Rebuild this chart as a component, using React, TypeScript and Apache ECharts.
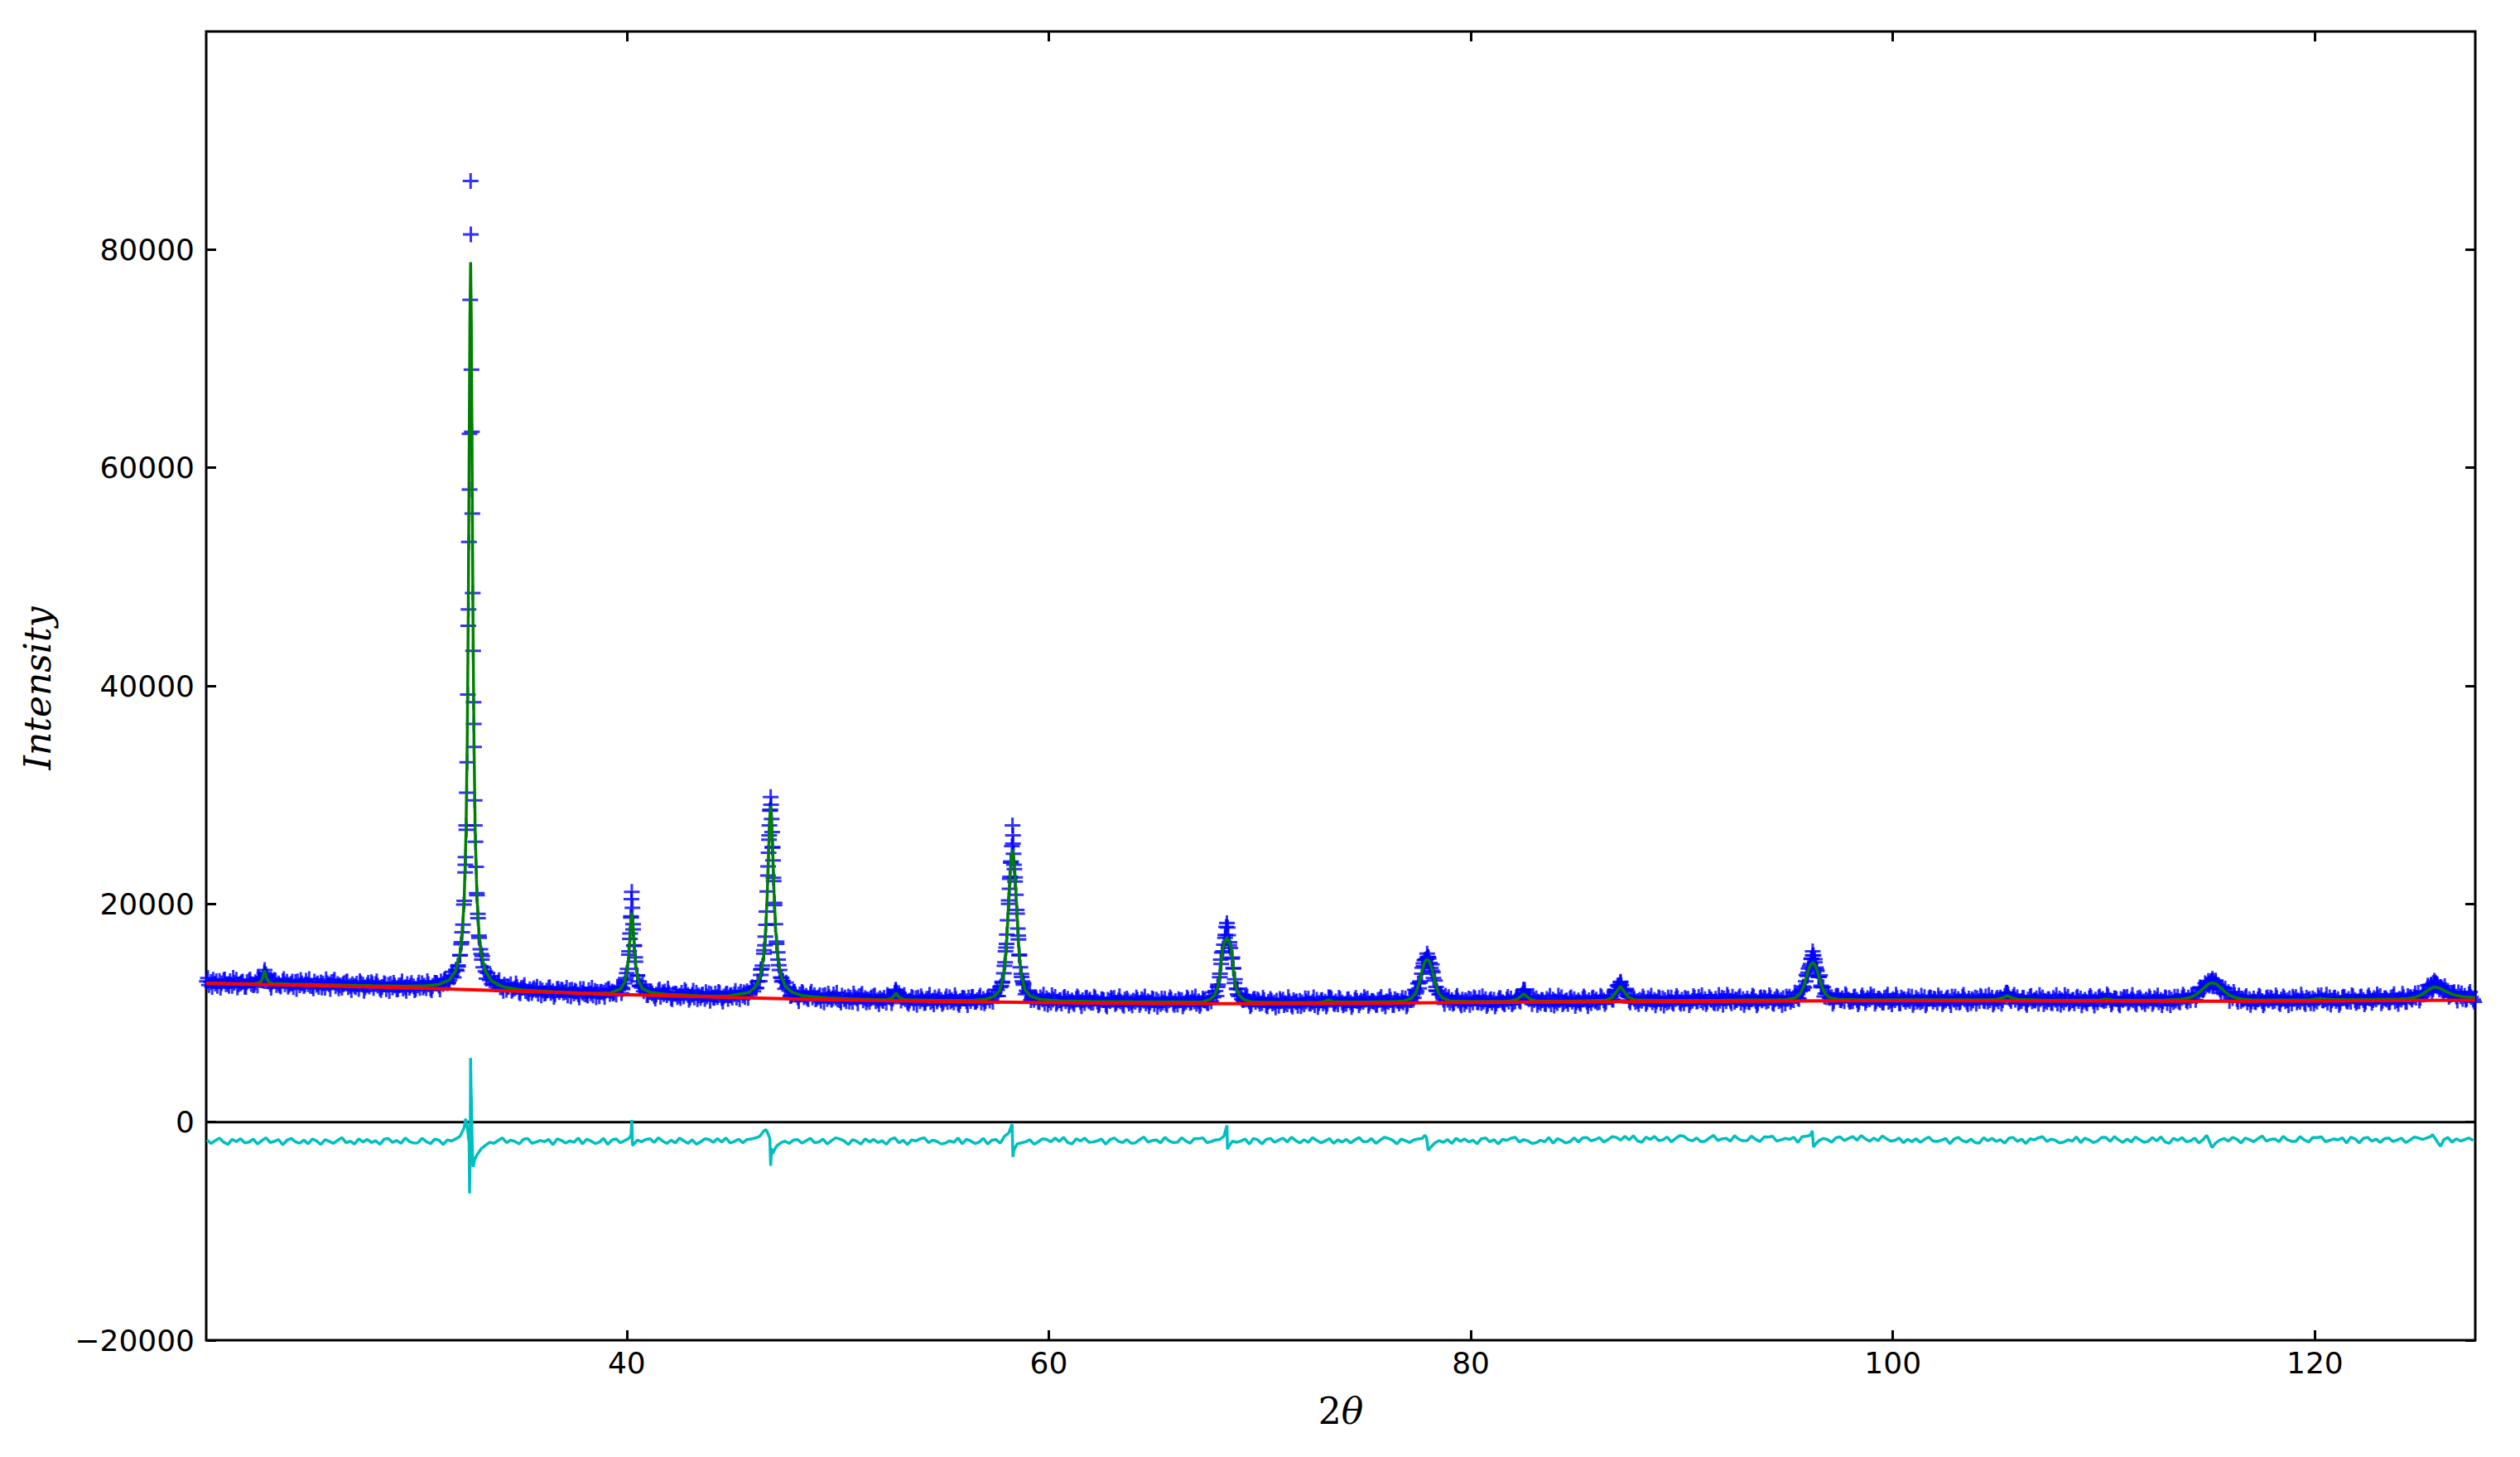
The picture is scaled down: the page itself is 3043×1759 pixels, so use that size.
import React, { useEffect, useRef } from "react";
import * as echarts from "echarts";

// ---------- axes ----------
const X_MIN = 20.07;
const X_MAX = 127.6;
const Y_MIN = -20000;
const Y_MAX = 100000;
const xTickValues = [40, 60, 80, 100, 120];
const yTickValues = [-20000, 0, 20000, 40000, 60000, 80000];

// ---------- observed intensities (scan grid, 0.1 deg step from 20.1) ----------
const OBS_START = 20.1;
const OBS_STEP = 0.1;
const observedGrid = [
  12900, 12570, 12840, 13060, 12690, 12480, 12950, 12740, 13010, 12630,
  12660, 12930, 12480, 12780, 13050, 12620, 12720, 12890, 12410, 12830,
  12970, 12660, 12540, 12830, 12520, 13020, 13000, 13310, 13560, 12910,
  12650, 12860, 13030, 12560, 12710, 12430, 12920, 12630, 12860, 12580,
  12700, 12370, 12840, 12900, 12550, 12720, 12460, 12960, 12630, 12490,
  12470, 12890, 12580, 12390, 12810, 12710, 12310, 12740, 12640, 12830,
  12880, 12440, 12660, 12550, 12310, 12740, 12820, 12380, 12490, 12630,
  12490, 12690, 12210, 12740, 12600, 12350, 12560, 12430, 12820, 12290,
  12660, 12500, 12260, 12390, 12740, 12180, 12590, 12680, 12330, 12530,
  12160, 12530, 12570, 12250, 12380, 12660, 12310, 12750, 12440, 12220,
  12530, 12290, 12740, 12500, 12280, 12630, 12240, 12480, 12780, 12740,
  12510, 12910, 12650, 13110, 12740, 13020, 13430, 13270, 13970, 14370,
  15300, 17400, 20300, 26800, 47000, 86300, 48500, 27200, 20800, 16900,
  15420, 14190, 13810, 13680, 13010, 12650, 12950, 12620, 12800, 12350,
  12360, 12600, 12120, 12390, 12640, 12180, 12260, 12400, 11900, 12290,
  12330, 12020, 11900, 12180, 11840, 12280, 12110, 11770, 12220, 12070,
  11780, 12060, 12310, 11840, 11990, 11710, 12200, 11910, 12140, 11860,
  11940, 11610, 12080, 12140, 11790, 11960, 11700, 12200, 11870, 11730,
  11690, 12110, 11800, 11610, 12030, 11930, 11530, 11960, 11860, 12050,
  12170, 11740, 11980, 11900, 11690, 12200, 12420, 12190, 12720, 13660,
  15360, 18860, 17680, 15110, 13420, 12470, 12330, 12000, 12260, 11660,
  11960, 11800, 11560, 11690, 12040, 11480, 11890, 11980, 11630, 11830,
  11370, 11740, 11780, 11460, 11590, 11870, 11520, 11960, 11650, 11430,
  11670, 11420, 11860, 11610, 11380, 11710, 11300, 11520, 11800, 11730,
  11430, 11780, 11460, 11840, 11370, 11510, 11730, 11290, 11610, 11400,
  11720, 11410, 11710, 11960, 11620, 11460, 11990, 11860, 12230, 12000,
  12280, 12890, 12920, 14040, 15760, 18080, 23450, 28650, 25170, 19890,
  16550, 14390, 13270, 12950, 12230, 12400, 12060, 11590, 11940, 11710,
  11440, 11700, 11930, 11440, 11570, 11270, 11740, 11430, 11640, 11340,
  11450, 11120, 11590, 11650, 11300, 11470, 11210, 11710, 11380, 11240,
  11170, 11590, 11280, 11090, 11510, 11410, 11010, 11440, 11340, 11530,
  11590, 11150, 11370, 11260, 11020, 11450, 11530, 11090, 11200, 11340,
  11210, 11410, 10940, 11480, 11410, 11310, 11870, 11730, 11820, 11130,
  11410, 11250, 11010, 11140, 11490, 10930, 11340, 11430, 11080, 11280,
  10920, 11290, 11330, 11010, 11140, 11420, 11070, 11510, 11200, 10980,
  11270, 11010, 11450, 11200, 10970, 11300, 10890, 11110, 11390, 11320,
  11080, 11430, 11110, 11490, 11020, 11170, 11400, 10960, 11290, 11100,
  11420, 11140, 11480, 11800, 11560, 11550, 12370, 12860, 14330, 16350,
  20320, 23790, 25540, 22440, 19110, 15280, 13580, 12750, 11720, 11890,
  11850, 11420, 11220, 11430, 11040, 11450, 11260, 10900, 11340, 11180,
  10950, 11230, 11480, 11010, 11160, 10880, 11370, 11080, 11310, 11030,
  11150, 10820, 11290, 11350, 11000, 11170, 10910, 11410, 11080, 10940,
  10940, 11360, 11050, 10860, 11280, 11180, 10780, 11210, 11110, 11300,
  11380, 10940, 11160, 11050, 10810, 11240, 11320, 10880, 10990, 11130,
  11020, 11220, 10740, 11270, 11130, 10880, 11090, 10960, 11350, 10820,
  11230, 11070, 10830, 10960, 11310, 10750, 11160, 11250, 10900, 11100,
  10780, 11150, 11190, 10870, 11000, 11280, 10930, 11370, 11060, 10840,
  11090, 10860, 11330, 11130, 10950, 11350, 11070, 11440, 12020, 12400,
  13290, 15540, 16270, 17900, 17130, 15970, 15090, 12750, 12220, 11560,
  11620, 11170, 11360, 11500, 11060, 10800, 11250, 11010, 11260, 10850,
  10910, 11180, 10730, 11030, 11300, 10870, 10970, 11140, 10660, 11080,
  11230, 10920, 10800, 11080, 10740, 11180, 11010, 10670, 11120, 10970,
  10790, 11070, 11320, 10850, 11000, 10720, 11210, 10920, 11150, 10870,
  11040, 10860, 11380, 11290, 10890, 11060, 10800, 11300, 10970, 10830,
  10860, 11280, 10970, 10780, 11200, 11100, 10700, 11130, 11030, 11220,
  11330, 10890, 11110, 11000, 10760, 11190, 11270, 10830, 10940, 11080,
  11020, 11220, 10740, 11270, 11130, 10880, 11090, 10960, 11350, 10820,
  11480, 11400, 11380, 11810, 12710, 12900, 14160, 14850, 14950, 15000,
  14130, 13750, 12990, 12020, 11700, 11730, 11230, 11600, 11210, 10940,
  11190, 10940, 11380, 11130, 10900, 11230, 10820, 11040, 11320, 11250,
  10970, 11320, 11000, 11380, 10910, 11050, 11270, 10830, 11150, 10940,
  11210, 10880, 11150, 11370, 11000, 10790, 11260, 11050, 11320, 10940,
  11070, 11440, 11140, 11640, 12160, 11530, 11380, 11400, 10820, 11190,
  11350, 11040, 10920, 11200, 10860, 11300, 11130, 10790, 11240, 11090,
  10910, 11190, 11440, 10970, 11120, 10840, 11330, 11040, 11270, 10990,
  11160, 10830, 11300, 11360, 11010, 11180, 10920, 11420, 11090, 10950,
  11000, 11440, 11160, 11020, 11510, 11510, 11240, 11920, 12070, 12560,
  12860, 12070, 11990, 11580, 11160, 11490, 11500, 11010, 11100, 11210,
  11120, 11320, 10840, 11370, 11230, 10980, 11190, 11060, 11450, 10920,
  11340, 11180, 10940, 11070, 11420, 10860, 11270, 11360, 11010, 11210,
  10900, 11270, 11310, 10990, 11120, 11400, 11050, 11490, 11180, 10960,
  11270, 11020, 11460, 11210, 10980, 11310, 10900, 11120, 11400, 11330,
  11090, 11440, 11120, 11500, 11030, 11170, 11390, 10950, 11270, 11060,
  11320, 10990, 11260, 11480, 11110, 10900, 11370, 11160, 11430, 11050,
  11130, 11400, 10950, 11250, 11520, 11090, 11190, 11360, 10880, 11300,
  11500, 11240, 11170, 11550, 11360, 12000, 12130, 12340, 13490, 14090,
  14500, 15280, 14930, 13860, 13310, 12380, 12370, 11780, 11810, 11380,
  11460, 11090, 11530, 11560, 11190, 11350, 11080, 11570, 11230, 11090,
  11090, 11510, 11200, 11010, 11430, 11330, 10930, 11360, 11260, 11450,
  11530, 11090, 11310, 11200, 10960, 11390, 11470, 11030, 11140, 11280,
  11170, 11370, 10890, 11420, 11280, 11030, 11240, 11110, 11500, 10970,
  11380, 11220, 10980, 11110, 11460, 10900, 11310, 11400, 11050, 11250,
  10930, 11300, 11340, 11020, 11150, 11430, 11080, 11520, 11210, 10990,
  11290, 11040, 11480, 11230, 11000, 11330, 10920, 11140, 11420, 11350,
  11100, 11450, 11130, 11510, 11040, 11180, 11400, 10960, 11280, 11070,
  11420, 11170, 11560, 11880, 11430, 11100, 11490, 11210, 11450, 11050,
  11110, 11380, 10930, 11230, 11500, 11070, 11170, 11340, 10860, 11280,
  11430, 11120, 11000, 11280, 10940, 11380, 11210, 10870, 11320, 11170,
  10970, 11250, 11500, 11030, 11180, 10900, 11390, 11100, 11330, 11050,
  11210, 10880, 11350, 11410, 11060, 11230, 10970, 11520, 11220, 11110,
  11150, 11540, 11190, 10970, 11370, 11270, 10870, 11300, 11200, 11390,
  11480, 11040, 11260, 11150, 10910, 11340, 11420, 10980, 11090, 11230,
  11120, 11320, 10840, 11370, 11230, 10980, 11190, 11060, 11450, 10920,
  11380, 11230, 11000, 11140, 11500, 10960, 11390, 11500, 11180, 11420,
  11150, 11570, 11720, 11540, 11830, 12280, 12100, 12740, 12610, 12510,
  12940, 12660, 12980, 12580, 12170, 12330, 11740, 11790, 11920, 11730,
  11370, 11660, 11280, 11620, 11110, 11230, 11430, 10970, 11280, 11060,
  11320, 10990, 11260, 11480, 11110, 10900, 11370, 11160, 11430, 11050,
  11120, 11390, 10940, 11240, 11510, 11080, 11180, 11350, 10870, 11290,
  11460, 11150, 11030, 11310, 10970, 11410, 11240, 10900, 11350, 11200,
  11050, 11360, 11630, 11140, 11260, 10950, 11440, 11150, 11380, 11100,
  11270, 10940, 11410, 11470, 11120, 11290, 11030, 11530, 11200, 11060,
  11090, 11510, 11200, 11010, 11430, 11330, 10930, 11360, 11260, 11450,
  11560, 11120, 11340, 11230, 10990, 11420, 11500, 11060, 11170, 11310,
  11240, 11460, 11000, 11560, 11450, 11240, 11490, 11400, 11860, 11410,
  11960, 11920, 11830, 12110, 12610, 12180, 12610, 12600, 12170, 12270,
  11830, 12100, 12040, 11640, 11700, 11910, 11500, 11890, 11540, 11290,
  11570, 11300, 11730, 11470, 11230,
];

// second interleaved set of scan points (0.2 deg step from 20.15)
const OBS_B_START = 20.15;
const OBS_B_STEP = 0.2;
const observedGridB = [
  13200, 12400, 12930, 12310, 13080, 12490, 13220, 12340, 12820, 12390,
  13080, 12600, 13220, 12980, 13320, 12320, 12990, 12540, 13120, 12420,
  12880, 12210, 13040, 12600, 13120, 12260, 12720, 12340, 13090, 12200,
  13050, 12260, 12620, 12900, 12110, 12380, 12930, 12040, 12780, 12650,
  12900, 12100, 12630, 12010, 12780, 12180, 12910, 12030, 12510, 12080,
  12800, 12340, 12930, 12080, 12760, 12170, 13040, 12800, 13780, 13900,
  16300, 23600, 58000, 36500, 18700, 15220, 13150, 13380, 12640, 13010,
  12040, 12460, 12030, 12720, 11800, 12560, 11770, 12130, 12410, 11620,
  11830, 12380, 11490, 12230, 12100, 12320, 11520, 12050, 11430, 12200,
  11590, 12320, 11440, 11920, 11490, 12220, 11780, 12420, 11820, 13200,
  16800, 16200, 12900, 12600, 11650, 12000, 11330, 12160, 11720, 12240,
  11280, 11740, 11360, 12110, 11220, 12060, 11270, 11630, 11910, 11120,
  11390, 11940, 11050, 11790, 11660, 12030, 11280, 11890, 11390, 12380,
  12300, 13980, 16200, 26300, 22400, 15560, 12880, 12800, 11560, 11950,
  11080, 11830, 11380, 11960, 11260, 11630, 10960, 11790, 11350, 11870,
  10960, 11420, 11040, 11790, 10900, 11760, 10970, 11330, 11610, 10820,
  11100, 11660, 10910, 12150, 11560, 11650, 10850, 11380, 10760, 11530,
  10940, 11670, 10790, 11270, 10840, 11540, 11060, 11630, 10740, 11380,
  10720, 11470, 11020, 11600, 10900, 11540, 11020, 12130, 12490, 15660,
  22300, 23600, 17100, 12900, 12050, 11170, 11460, 10980, 11690, 10770,
  11630, 10840, 11200, 11480, 10690, 10960, 11510, 10620, 11360, 11230,
  11500, 10700, 11230, 10610, 11380, 10820, 11540, 10660, 11140, 10710,
  11420, 10940, 11510, 10620, 11260, 10570, 11320, 10870, 11450, 10750,
  11270, 10600, 11430, 10990, 11510, 10650, 11170, 10900, 11890, 11560,
  14900, 16900, 16200, 14100, 11700, 11300, 11660, 10630, 11310, 11120,
  11410, 10610, 11140, 10520, 11290, 10730, 11460, 10580, 11060, 10630,
  11350, 10870, 11440, 10550, 11190, 10600, 11420, 10820, 11400, 10700,
  11230, 10560, 11390, 10950, 11470, 10660, 11120, 10740, 11490, 10600,
  11540, 10750, 11110, 11390, 10600, 11170, 12120, 12260, 14550, 15120,
  14470, 12070, 11750, 10830, 11470, 10850, 11580, 10700, 11180, 10750,
  11440, 10960, 11530, 10640, 11280, 10610, 11360, 10910, 11490, 10790,
  11420, 11050, 12130, 11270, 11580, 10740, 11200, 10820, 11570, 10680,
  11590, 10800, 11160, 11440, 10650, 10970, 11520, 10630, 11370, 11240,
  11580, 10840, 11520, 11210, 12500, 12150, 12230, 10970, 11300, 10810,
  11510, 11030, 11600, 10710, 11350, 10680, 11430, 10980, 11560, 10860,
  11390, 10720, 11550, 11110, 11630, 10820, 11280, 10900, 11650, 10760,
  11680, 10890, 11250, 11530, 10740, 11050, 11600, 10710, 11450, 11320,
  11630, 10830, 11360, 10740, 11510, 11020, 11880, 11300, 12430, 13400,
  14960, 14180, 13450, 11510, 11770, 10850, 11600, 11150, 11730, 11030,
  11460, 10790, 11620, 11180, 11700, 10860, 11320, 10940, 11690, 10800,
  11690, 10900, 11260, 11540, 10750, 11050, 11600, 10710, 11450, 11320,
  11620, 10820, 11350, 10730, 11500, 10950, 11680, 10800, 11280, 10850,
  11570, 11090, 11660, 10770, 11410, 10860, 11820, 11280, 11680, 10910,
  11410, 10740, 11570, 11130, 11650, 10820, 11280, 10900, 11650, 10760,
  11650, 10860, 11220, 11500, 10710, 11030, 11580, 10690, 11430, 11300,
  11700, 10800, 11330, 10710, 11480, 10920, 11650, 10770, 11250, 10820,
  11520, 11040, 11610, 10720, 11360, 10730, 11500, 11070, 11690, 11050,
  11670, 11200, 12350, 12260, 12950, 12440, 12570, 11840, 12240, 11100,
  11930, 11030, 11320, 11560, 10740, 11050, 11600, 10710, 11450, 11320,
  11620, 10820, 11350, 10730, 11500, 10960, 11690, 10810, 11290, 10860,
  11620, 11170, 11690, 10780, 11420, 10750, 11500, 11050, 11630, 10930,
  11460, 10790, 11620, 11180, 11700, 10900, 11360, 10980, 11730, 10840,
  11770, 11020, 11450, 11810, 11140, 11690, 12520, 11930, 12700, 12390,
  12470, 11480, 11860, 11130, 11810, 11220, 11930, 11030,
];

// extra observed points measured on the Bragg peaks [2theta, counts]
const observedPeaks: [number, number][] = [
  [22.82, 13700], [22.84, 13940], [22.86, 13500], [22.78, 13250], [22.88, 13150],
  [32.61, 81400], [32.58, 75400], [32.64, 69000], [32.66, 63300], [32.55, 63100],
  [32.68, 55800], [32.52, 53200], [32.49, 45500], [32.72, 43200], [32.47, 39200],
  [32.76, 34400], [32.42, 30200], [32.79, 29500], [32.39, 27200], [32.83, 25700],
  [32.34, 22900], [32.89, 21000], [32.28, 19950], [32.94, 19100], [32.24, 18100],
  [32.99, 17100], [32.17, 16500], [33.06, 15850], [32.10, 15300], [33.13, 14900],
  [32.0, 14250], [32.36, 24300], [32.86, 23400], [32.44, 33000], [32.74, 38500],
  [40.24, 21100], [40.22, 20450], [40.27, 19650], [40.20, 18750], [40.30, 18150],
  [40.16, 17300], [40.35, 16150], [40.11, 15650], [40.41, 14700], [40.04, 14050],
  [40.50, 13450], [39.94, 13000], [40.64, 12500], [39.79, 12300],
  [46.82, 29800], [46.84, 29100], [46.79, 28550], [46.865, 27800], [46.76, 27200],
  [46.89, 26600], [46.74, 25900], [46.91, 25200], [46.72, 24700], [46.93, 24000],
  [46.69, 22600], [46.96, 22100], [46.66, 21150], [47.00, 20100], [46.62, 19300],
  [47.04, 18150], [46.57, 17000], [47.10, 16350], [46.50, 15450], [47.17, 14900],
  [46.43, 14350], [47.24, 13950], [46.35, 13500], [47.34, 13200],
  [52.74, 12050], [52.78, 11900], [52.70, 11750],
  [58.28, 27200], [58.30, 26300], [58.25, 25300], [58.33, 24600], [58.21, 23900],
  [58.37, 23200], [58.17, 22500], [58.40, 22050], [58.14, 21400], [58.44, 20850],
  [58.10, 20000], [58.48, 19450], [58.05, 18500], [58.53, 17750], [58.01, 17200],
  [58.56, 16750], [57.98, 16000], [58.60, 15350], [57.93, 14650], [58.65, 14200],
  [57.87, 13650], [58.71, 13300], [57.79, 12800], [58.80, 12600],
  [68.44, 18250], [68.48, 17850], [68.36, 17150], [68.56, 16500], [68.26, 15650],
  [68.68, 15000], [68.17, 14500], [68.74, 14100], [68.11, 13600], [68.82, 13100],
  [68.02, 12600], [68.94, 12200],
  [73.26, 11450],
  [77.93, 15450], [77.98, 15150], [77.85, 14900], [78.05, 14600], [77.77, 14300],
  [78.15, 13900], [77.68, 13600], [78.23, 13200], [77.58, 12800], [78.35, 12400],
  [77.43, 12000],
  [82.51, 12050], [82.55, 11850], [82.46, 11800],
  [87.09, 12800], [87.13, 12550], [87.03, 12400], [87.2, 12150], [86.95, 12100],
  [96.20, 15650], [96.24, 15300], [96.13, 15000], [96.30, 14650], [96.06, 14300],
  [96.38, 14000], [95.98, 13700], [96.48, 13300], [95.87, 12900], [96.60, 12500],
  [95.72, 12100],
  [105.42, 11850], [105.46, 11700],
  [115.14, 13130], [115.20, 12950], [115.06, 12900], [115.30, 12750], [114.98, 12700],
  [125.66, 12970], [125.72, 12800], [125.60, 12750], [125.80, 12600], [125.50, 12550],
];

// ---------- calculated profile [2theta, counts] ----------
const calculated: [number, number][] = [
  [20.07, 12760], [21, 12720], [22, 12690], [22.5, 12720], [22.65, 12850], [22.75, 13250],
  [22.84, 13900], [22.93, 13250], [23.03, 12850], [23.2, 12720], [24, 12650], [26, 12580],
  [28, 12500], [29.5, 12470], [30.5, 12500], [31.1, 12620], [31.6, 13050], [31.9, 13900],
  [32.1, 15480], [32.2, 17220], [32.3, 20680], [32.38, 26450], [32.44, 34850], [32.49, 46950],
  [32.53, 60850], [32.565, 73150], [32.6, 78850], [32.635, 73150], [32.67, 60850], [32.71, 46950],
  [32.76, 34850], [32.82, 26450], [32.9, 20680], [33.0, 17220], [33.1, 15450], [33.3, 13820],
  [33.6, 12930], [34.1, 12420], [35, 12130], [36.5, 11950], [38, 11830], [39.2, 11830],
  [39.7, 12200], [39.9, 12800], [40.02, 13860], [40.09, 15190], [40.14, 16670], [40.19, 18350],
  [40.24, 19200], [40.29, 18350], [40.34, 16670], [40.39, 15190], [40.46, 13860], [40.56, 12900],
  [40.74, 12250], [41.1, 11900], [42, 11700], [43.5, 11580], [44.8, 11560], [45.8, 11900],
  [46.12, 12430], [46.34, 13460], [46.48, 15090], [46.58, 17510], [46.66, 20990], [46.72, 24670],
  [46.77, 27670], [46.82, 29000], [46.87, 27670], [46.92, 24670], [46.98, 20990], [47.06, 17510],
  [47.16, 15090], [47.3, 13460], [47.52, 12430], [47.82, 11920], [48.3, 11600], [49.5, 11380],
  [51, 11280], [52.3, 11220], [52.55, 11350], [52.66, 11550], [52.76, 11840], [52.86, 11550],
  [52.97, 11350], [53.2, 11210], [55, 11150], [56.5, 11180], [57, 11250], [57.43, 11550],
  [57.68, 12100], [57.83, 13200], [57.93, 14600], [58.01, 16800], [58.08, 19600], [58.13, 21500],
  [58.18, 23000], [58.23, 24400], [58.28, 25000], [58.33, 24400], [58.38, 23000], [58.43, 21500],
  [58.48, 19600], [58.55, 16800], [58.63, 14600], [58.73, 13200], [58.88, 12100], [59.13, 11550],
  [59.58, 11250], [60.5, 11120], [62, 11070], [64, 11040], [66, 11020], [67.24, 11000],
  [67.64, 11250], [67.84, 11600], [67.99, 12200], [68.09, 13200], [68.16, 14600], [68.24, 15900],
  [68.34, 16600], [68.44, 16900], [68.54, 16600], [68.64, 15900], [68.72, 14600], [68.79, 13200],
  [68.89, 12200], [69.04, 11600], [69.24, 11250], [69.64, 11000], [71, 10960], [72.8, 10990],
  [73.0, 11020], [73.25, 11200], [73.5, 11020], [75, 11010], [76.5, 11060], [76.83, 11100],
  [77.18, 11350], [77.38, 11800], [77.53, 12600], [77.63, 13400], [77.73, 14200], [77.83, 14750],
  [77.93, 14900], [78.03, 14750], [78.13, 14200], [78.23, 13400], [78.33, 12600], [78.48, 11800],
  [78.68, 11350], [79.03, 11100], [80, 11060], [81.6, 11080], [81.9, 11120], [82.2, 11260],
  [82.35, 11500], [82.51, 11770], [82.67, 11500], [82.82, 11260], [83.1, 11120], [85, 11110],
  [86.4, 11180], [86.7, 11430], [86.9, 11950], [87.09, 12450], [87.28, 11950], [87.48, 11430],
  [87.8, 11190], [89, 11150], [92, 11180], [94.5, 11220], [95, 11240], [95.4, 11420],
  [95.62, 11800], [95.78, 12500], [95.9, 13300], [96.0, 13950], [96.1, 14450], [96.2, 14630],
  [96.3, 14450], [96.4, 13950], [96.5, 13300], [96.62, 12500], [96.78, 11800], [97.0, 11400],
  [97.4, 11260], [98.5, 11210], [101, 11210], [104.5, 11210], [104.9, 11260], [105.2, 11380],
  [105.42, 11590], [105.65, 11380], [105.95, 11250], [107, 11190], [109.6, 11180], [109.8, 11200],
  [110.1, 11300], [110.4, 11200], [111, 11180], [113, 11200], [113.14, 11220], [113.64, 11260],
  [114.04, 11400], [114.34, 11650], [114.54, 11950], [114.74, 12300], [114.94, 12650], [115.14, 12780],
  [115.34, 12650], [115.54, 12300], [115.74, 11950], [115.94, 11650], [116.24, 11400], [116.64, 11250],
  [117.1, 11200], [119.5, 11220], [119.8, 11240], [120.3, 11330], [120.8, 11240], [122, 11240],
  [124, 11290], [124.4, 11330], [124.8, 11460], [125.1, 11750], [125.4, 12150], [125.67, 12400],
  [125.95, 12250], [126.25, 11950], [126.6, 11650], [127.0, 11500], [127.6, 11420],
];

// ---------- background [2theta, counts] ----------
const background: [number, number][] = [
  [20.07, 12720], [25, 12530], [30, 12290], [35, 12000], [40, 11680], [45, 11420],
  [50, 11200], [55, 11060], [60, 10950], [65, 10880], [70, 10850], [75, 10900],
  [80, 10960], [85, 11020], [90, 11070], [95, 11110], [100, 11130], [110, 11110],
  [115, 11080], [120, 11110], [125, 11160], [127.6, 11180],
];

// ---------- difference curve (offset), 0.2 deg step from 20.1 ----------
const DIFF_START = 20.1;
const DIFF_STEP = 0.2;
const differenceGrid = [
  -1630, -1960, -1690, -1470, -1840, -2050, -1580, -1790, -1520, -1900,
  -1830, -1560, -2010, -1710, -1440, -1870, -1770, -1600, -2080, -1660,
  -1500, -1810, -1930, -1650, -1990, -1550, -1720, -2060, -1610, -1760,
  -1950, -1670, -1420, -1890, -1740, -2020, -1530, -1820, -1590, -1870,
  -1710, -2040, -1570, -1510, -1860, -1690, -1950, -1450, -1780, -1920,
  -1900, -1480, -1790, -1980, -1560, -1660, -2060, -1630, -1730, -1540,
  -1300, -500, -1500, -3500, -3000, -2450, -2150, -1850, -1950, -1700,
  -1440, -1880, -1660, -1770, -2010, -1580, -1500, -1940, -1830, -1690,
  -1790, -1590, -2070, -1540, -1680, -1930, -1720, -1850, -1460, -1990,
  -1570, -1730, -1970, -1840, -1490, -2050, -1640, -1550, -1900, -1700,
  -1500, -2100, -1650, -1800, -1600, -1520, -1870, -1430, -1740, -1960,
  -1660, -1910, -1470, -1720, -1950, -1620, -2030, -1810, -1530, -1600,
  -1860, -1510, -1830, -1450, -1920, -1780, -1560, -1900, -1600, -1550,
  -1450, -1300, -800, -1100, -2900, -2200, -1900, -1750, -1950, -1650,
  -1600, -1930, -1720, -1490, -1880, -1830, -1560, -2010, -1710, -1440,
  -1550, -1720, -2060, -1610, -1760, -2020, -1530, -1820, -1590, -1870,
  -1710, -2040, -1570, -1450, -1900, -1660, -2060, -1630, -1730, -1540,
  -1440, -1880, -1660, -1770, -2010, -1930, -1720, -1850, -1460, -1990,
  -1570, -1730, -1970, -1840, -1490, -2020, -1650, -1610, -1930, -1300,
  -1000, -3200, -2000, -1900, -1800, -1620, -2030, -1810, -1530, -1600,
  -1810, -1460, -1780, -1400, -1870, -2000, -1530, -1740, -1470, -1850,
  -1820, -1720, -1550, -2030, -1610, -1450, -1760, -1880, -1600, -1940,
  -1900, -1620, -1370, -1840, -1690, -1640, -1900, -1400, -1730, -1870,
  -1850, -1430, -1740, -1930, -1510, -1530, -1450, -1890, -1780, -1640,
  -1600, -1300, -2300, -1750, -1850, -1740, -1540, -2020, -1490, -1630,
  -2000, -1590, -1500, -1850, -1650, -1470, -1820, -1380, -1690, -1910,
  -1610, -1860, -1420, -1670, -1900, -1730, -1510, -1950, -1630, -1840,
  -1580, -1910, -1640, -1420, -1790, -1780, -1510, -1960, -1660, -1390,
  -1500, -1670, -2010, -1560, -1710, -1870, -1640, -1550, -1500, -1400,
  -2300, -1900, -1700, -1850, -1600, -1970, -1480, -1770, -1540, -1820,
  -1660, -1990, -1520, -1460, -1810, -1610, -2010, -1580, -1680, -1490,
  -1390, -1830, -1610, -1720, -1960, -1880, -1670, -1800, -1410, -1940,
  -1520, -1680, -1920, -1790, -1440, -1820, -1450, -1410, -1730, -1600,
  -1420, -1830, -1610, -1330, -1400, -1660, -1310, -1630, -1250, -1720,
  -1850, -1380, -1590, -1320, -1700, -1630, -1360, -1810, -1510, -1240,
  -1300, -1610, -1730, -1450, -1790, -1750, -1470, -1220, -1690, -1540,
  -1490, -1750, -1250, -1580, -1720, -1700, -1280, -1590, -1780, -1360,
  -1380, -1300, -1740, -1630, -1490, -1590, -1390, -1870, -1340, -1300,
  -1200, -2100, -1700, -1500, -1600, -1850, -1440, -1350, -1700, -1500,
  -1320, -1670, -1230, -1540, -1760, -1460, -1710, -1270, -1520, -1750,
  -1680, -1460, -1900, -1580, -1790, -1530, -1860, -1590, -1370, -1740,
  -1770, -1670, -1500, -1980, -1560, -1400, -1710, -1830, -1550, -1890,
  -1920, -1430, -1720, -1490, -1770, -1610, -1940, -1470, -1410, -1760,
  -1560, -1960, -1530, -1630, -1440, -1340, -1780, -1560, -1670, -1910,
  -1830, -1620, -1750, -1360, -1890, -1470, -1630, -1870, -1740, -1390,
  -1420, -1770, -1330, -1640, -1860, -1560, -1810, -1370, -1620, -1850,
  -1760, -1410, -1730, -1350, -1820, -1950, -1480, -1690, -1420, -1800,
  -1730, -1460, -1910, -1610, -1300, -2250, -1900, -1650, -1500, -1750,
  -1400, -1570, -1910, -1460, -1610, -1800, -1520, -1270, -1740, -1590,
  -1540, -1800, -1300, -1630, -1770, -1750, -1330, -1640, -1830, -1410,
  -1430, -1350, -1790, -1680, -1540, -1640, -1440, -1920, -1390, -1530,
  -1900, -1490, -1400, -1750, -1550, -1870, -1500, -1460, -1780, -1650,
  -1470, -1880, -1660, -1380, -1450, -1600, -1450, -1300, -1500, -2100,
  -1630, -1410, -1850, -1530, -1740, -1600, -1450, -1700,
];

// difference detail at the Bragg peaks [2theta, counts]
const differencePeaks: [number, number][] = [
  [32.36, 300], [32.43, -200], [32.47, -900], [32.53, -1800], [32.55, -6540],
  [32.58, -3000], [32.60, 5880], [32.62, 3000], [32.64, 1700], [32.67, -1500],
  [32.72, -4100], [32.80, -3400],
  [40.2, -1200], [40.24, 200], [40.27, -2100],
  [46.6, -700], [46.78, -1500], [46.82, -4000], [46.86, -2400],
  [58.22, -400], [58.26, -200], [58.34, -2600],
  [68.4, -600], [68.44, -300], [68.47, -2500],
  [77.82, -1200], [77.98, -2600],
  [96.18, -800], [96.24, -2300],
  [114.85, -1250], [115.14, -2300],
  [125.57, -1150], [125.96, -2200],
];

const zeroLine: [number, number][] = [[X_MIN, 0], [X_MAX, 0]];

const PLUS = "path://M0,8H19V11H0Z M8,0H11V19H8Z";

export default function App() {
  const ref = useRef<HTMLDivElement>(null);

  useEffect(() => {
    if (!ref.current) return;
    const chart = echarts.init(ref.current, null, { renderer: "svg" });
    const r2 = (v: number) => Math.round(v * 100) / 100;

    const obsData = [
      ...observedGrid.map((y, i) => [r2(OBS_START + i * OBS_STEP), y]),
      ...observedGridB.map((y, i) => [r2(OBS_B_START + i * OBS_B_STEP), y]),
      ...observedPeaks,
    ];
    const diffData = [
      ...differenceGrid.map((y, i) => [r2(DIFF_START + i * DIFF_STEP), y]),
      ...differencePeaks,
    ].sort((a, b) => a[0] - b[0]);

    const fmt = (v: number) => (v < 0 ? "\u2212" + String(Math.abs(v)) : String(v));
    const tick = { show: true, inside: true, length: 12, lineStyle: { color: "#000", width: 3 } };
    const noLine = { show: false, onZero: false };
    const labelFont = { color: "#000", fontSize: 36, fontFamily: "DejaVu Sans" };

    const option: any = {
      animation: false,
      backgroundColor: "#ffffff",
      grid: {
        left: 249, right: 54, top: 38, bottom: 141,
        show: true, borderColor: "#000", borderWidth: 3,
        backgroundColor: "transparent",
        containLabel: false, outerBoundsMode: "none",
      },
      xAxis: [
        {
          type: "value", min: X_MIN, max: X_MAX, position: "bottom",
          axisLine: noLine, splitLine: { show: false },
          axisTick: { ...tick, customValues: xTickValues },
          axisLabel: { ...labelFont, show: true, margin: 9, customValues: xTickValues, formatter: fmt },
        },
        {
          type: "value", min: X_MIN, max: X_MAX, position: "top",
          axisLine: noLine, splitLine: { show: false },
          axisTick: { ...tick, customValues: xTickValues },
          axisLabel: { show: false, customValues: xTickValues },
        },
      ],
      yAxis: [
        {
          type: "value", min: Y_MIN, max: Y_MAX, position: "left",
          axisLine: noLine, splitLine: { show: false },
          axisTick: { ...tick, customValues: yTickValues },
          axisLabel: { ...labelFont, show: true, margin: 14, customValues: yTickValues, formatter: fmt },
        },
        {
          type: "value", min: Y_MIN, max: Y_MAX, position: "right",
          axisLine: noLine, splitLine: { show: false },
          axisTick: { ...tick, customValues: yTickValues },
          axisLabel: { show: false, customValues: yTickValues },
        },
      ],
      series: [
        {
          name: "observed", type: "scatter", data: obsData,
          symbol: PLUS, symbolSize: 19,
          itemStyle: { color: "#0000ff", borderWidth: 0 },
          silent: true,
        },
        {
          name: "calculated", type: "line", data: calculated,
          showSymbol: false, symbol: "none",
          lineStyle: { color: "#008000", width: 3.5 }, silent: true,
        },
        {
          name: "background", type: "line", data: background,
          showSymbol: false, symbol: "none",
          lineStyle: { color: "#ff0000", width: 4 }, silent: true,
        },
        {
          name: "zero", type: "line", data: zeroLine,
          showSymbol: false, symbol: "none",
          lineStyle: { color: "#000000", width: 3 }, silent: true,
        },
        {
          name: "difference", type: "line", data: diffData,
          showSymbol: false, symbol: "none",
          lineStyle: { color: "#00bfbf", width: 3.5 }, silent: true,
        },
      ],
      graphic: [
        {
          type: "text", x: 45, y: 831, rotation: Math.PI / 2, silent: true,
          style: {
            text: "Intensity", fill: "#000",
            fontFamily: "DejaVu Serif", fontStyle: "italic", fontSize: 44,
            align: "center", verticalAlign: "middle",
            textAlign: "center", textVerticalAlign: "middle",
          },
        },
        {
          type: "text", x: 1619, y: 1703, silent: true,
          style: {
            text: "{a|2}{b|\u03b8}", fill: "#000",
            fontFamily: "DejaVu Serif", fontSize: 44,
            align: "center", verticalAlign: "middle",
            textAlign: "center", textVerticalAlign: "middle",
            rich: {
              a: { fontFamily: "DejaVu Serif", fontSize: 44, fontStyle: "normal", fill: "#000", color: "#000" },
              b: { fontFamily: "DejaVu Serif", fontSize: 44, fontStyle: "italic", fill: "#000", color: "#000" },
            },
          },
        },
      ],
    };

    chart.setOption(option);
    return () => chart.dispose();
  }, []);

  return (
    <div
      ref={ref}
      style={{ position: "fixed", left: 0, top: 0, width: 3043, height: 1759, background: "#fff" }}
    />
  );
}
